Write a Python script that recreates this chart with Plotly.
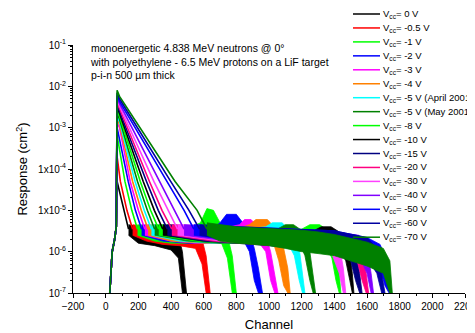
import plotly.graph_objects as go

# ---------------- data ----------------
series_names = [
    "V<sub>cc</sub>= 0 V", "V<sub>cc</sub>= -0.5 V", "V<sub>cc</sub>= -1 V",
    "V<sub>cc</sub>= -2 V", "V<sub>cc</sub>= -3 V", "V<sub>cc</sub>= -4 V",
    "V<sub>cc</sub>= -5 V (April 2001)", "V<sub>cc</sub>= -5 V (May 2001)",
    "V<sub>cc</sub>= -8 V", "V<sub>cc</sub>= -10 V", "V<sub>cc</sub>= -15 V",
    "V<sub>cc</sub>= -20 V", "V<sub>cc</sub>= -30 V", "V<sub>cc</sub>= -40 V",
    "V<sub>cc</sub>= -50 V", "V<sub>cc</sub>= -60 V", "V<sub>cc</sub>= -70 V",
]
series_colors = [
    "#000000", "#ff0000", "#00ff00", "#0000ff", "#ff00ff", "#ff8000",
    "#00ffff", "#008000", "#00ff00", "#000000", "#000080", "#ff0080",
    "#ff40ff", "#8000ff", "#0000ff", "#0000a0", "#008000",
]

# common leading edge of every spectrum
rise_ch = [25, 40, 55, 65]
rise_resp = [1e-7, 1e-6, 2e-6, 4e-6]

# peak and exponential fall-off of each spectrum
decay_ch = [
    [70, 110, 140],
    [70, 90, 130, 165],
    [70, 118, 160, 195],
    [70, 138, 182, 220],
    [70, 85, 150, 200, 240],
    [70, 85, 165, 218, 260],
    [70, 85, 180, 236, 280],
    [70, 85, 195, 255, 300],
    [70, 85, 212, 275, 325],
    [70, 85, 230, 298, 350],
    [70, 85, 250, 322, 378],
    [70, 85, 268, 345, 405],
    [70, 85, 295, 380, 440],
    [70, 85, 330, 420, 480],
    [70, 85, 375, 480, 540],
    [70, 85, 398, 510, 575],
    [70, 85, 425, 560, 620],
]
decay_resp = [
    [5e-5, 1e-5, 3.5e-6],
    [2e-4, 5e-5, 1e-5, 3.5e-6],
    [6.5e-4, 5e-5, 1e-5, 3.5e-6],
    [1.0e-3, 5e-5, 1e-5, 3.5e-6],
    [1.3e-3, 1.0e-3, 5e-5, 1e-5, 3.5e-6],
    [1.6e-3, 1.2e-3, 5e-5, 1e-5, 3.5e-6],
    [1.9e-3, 1.4e-3, 5e-5, 1e-5, 3.5e-6],
    [2.2e-3, 1.6e-3, 5e-5, 1e-5, 3.5e-6],
    [2.6e-3, 1.9e-3, 5e-5, 1e-5, 3.5e-6],
    [3.0e-3, 2.2e-3, 5e-5, 1e-5, 3.5e-6],
    [3.5e-3, 2.5e-3, 5e-5, 1e-5, 3.5e-6],
    [4.0e-3, 2.9e-3, 5e-5, 1e-5, 3.5e-6],
    [4.6e-3, 3.3e-3, 5e-5, 1e-5, 3.5e-6],
    [5.3e-3, 3.8e-3, 5e-5, 1e-5, 3.5e-6],
    [6.0e-3, 4.3e-3, 5e-5, 1e-5, 3.5e-6],
    [7.0e-3, 5.0e-3, 5e-5, 1e-5, 3.5e-6],
    [8.0e-3, 5.7e-3, 5e-5, 1e-5, 3.5e-6],
]

# noisy floor of each spectrum (upper / lower edge of the noise), incl. end-point drop
floor_ch = [
    [140, 200, 300, 400, 445, 470, 495],
    [165, 250, 350, 450, 550, 590, 615, 640],
    [195, 300, 400, 500, 580, 620, 660, 700, 745, 775, 800],
    [220, 350, 500, 650, 700, 740, 800, 840, 880, 910, 935, 960],
    [240, 400, 550, 700, 820, 850, 890, 930, 980, 1010, 1035, 1055],
    [260, 400, 600, 800, 880, 920, 990, 1030, 1060, 1090, 1115, 1130],
    [280, 450, 650, 850, 980, 1020, 1080, 1120, 1155, 1185, 1205, 1220],
    [300, 500, 700, 900, 1050, 1100, 1150, 1190, 1220, 1250, 1270, 1285],
    [325, 550, 800, 1000, 1200, 1250, 1310, 1350, 1385, 1410, 1430, 1440],
    [350, 600, 850, 1100, 1280, 1320, 1380, 1430, 1470, 1495, 1510, 1520],
    [378, 600, 900, 1200, 1400, 1500, 1530, 1555, 1570],
    [405, 650, 950, 1250, 1450, 1540, 1570, 1595, 1610],
    [440, 700, 1000, 1250, 1380, 1430, 1455, 1470],
    [480, 750, 1050, 1350, 1550, 1600, 1625, 1640],
    [540, 800, 1100, 1400, 1600, 1680, 1710, 1735, 1745],
    [575, 800, 1100, 1400, 1600, 1660, 1690, 1710],
    [620, 700, 800, 900, 1000, 1100, 1200, 1300, 1400, 1500, 1600, 1700, 1740, 1755],
]
floor_hi = [
    [4.5e-6, 4e-6, 3.5e-6, 3e-6, 2.5e-6, 1e-6, 1e-7],
    [4.5e-6, 4e-6, 3.5e-6, 3.3e-6, 3e-6, 2e-6, 8e-7, 1e-7],
    [4.5e-6, 4e-6, 3.5e-6, 3.5e-6, 5e-6, 1.1e-5, 1e-5, 5e-6, 2.5e-6, 8e-7, 1e-7],
    [4.5e-6, 4e-6, 3.5e-6, 3.5e-6, 5e-6, 8e-6, 8e-6, 5e-6, 3e-6, 1.2e-6, 4e-7, 1e-7],
    [4.5e-6, 4e-6, 3.5e-6, 3.5e-6, 4.5e-6, 6e-6, 6e-6, 4e-6, 2.5e-6, 1e-6, 3e-7, 1e-7],
    [4.5e-6, 4e-6, 3.5e-6, 3.5e-6, 4.5e-6, 6e-6, 6e-6, 4e-6, 2.5e-6, 1.2e-6, 4e-7, 1e-7],
    [4.5e-6, 4e-6, 3.5e-6, 3.5e-6, 4e-6, 5e-6, 5e-6, 3.5e-6, 2.5e-6, 1.2e-6, 3e-7, 1e-7],
    [4.5e-6, 4e-6, 3.5e-6, 3.5e-6, 3.5e-6, 4.5e-6, 4.5e-6, 3.5e-6, 2.5e-6, 1e-6, 3e-7, 1e-7],
    [4.5e-6, 4e-6, 3.5e-6, 3.5e-6, 3.5e-6, 4.5e-6, 4.5e-6, 3.5e-6, 2.2e-6, 9e-7, 3e-7, 1e-7],
    [4.5e-6, 4e-6, 3.5e-6, 3.5e-6, 3.3e-6, 4e-6, 4e-6, 3e-6, 2e-6, 9e-7, 3e-7, 1e-7],
    [4.5e-6, 4e-6, 3.6e-6, 3.2e-6, 2.8e-6, 2e-6, 1e-6, 3e-7, 1e-7],
    [4.5e-6, 4e-6, 3.6e-6, 3.2e-6, 2.8e-6, 2e-6, 1e-6, 3e-7, 1e-7],
    [4.5e-6, 4e-6, 3.6e-6, 3.2e-6, 2.8e-6, 1.5e-6, 4e-7, 1e-7],
    [4.5e-6, 4e-6, 3.6e-6, 3.2e-6, 2.5e-6, 1.2e-6, 3e-7, 1e-7],
    [4.5e-6, 4e-6, 3.6e-6, 3.2e-6, 2.2e-6, 1.5e-6, 8e-7, 2e-7, 1e-7],
    [4.5e-6, 4e-6, 3.6e-6, 3.2e-6, 2.2e-6, 1.2e-6, 3e-7, 1e-7],
    [5e-6, 4.5e-6, 4e-6, 3.8e-6, 3.6e-6, 3.5e-6, 3.3e-6, 3e-6, 2.6e-6, 2.1e-6, 1.7e-6, 1.2e-6, 6e-7, 1e-7],
]
floor_lo = [
    [2.5e-6, 1.6e-6, 1.4e-6, 1.1e-6, 7e-7, 1e-7, 1e-7],
    [2.5e-6, 1.8e-6, 1.5e-6, 1.4e-6, 1.2e-6, 5e-7, 1e-7, 1e-7],
    [2.5e-6, 1.8e-6, 1.6e-6, 1.6e-6, 2e-6, 4.5e-6, 4e-6, 2e-6, 7e-7, 1e-7, 1e-7],
    [2.5e-6, 1.8e-6, 1.6e-6, 1.6e-6, 2.5e-6, 3.5e-6, 3.5e-6, 2e-6, 1e-6, 2e-7, 1e-7, 1e-7],
    [2.5e-6, 1.8e-6, 1.6e-6, 1.6e-6, 2e-6, 3e-6, 3e-6, 1.8e-6, 1e-6, 2e-7, 1e-7, 1e-7],
    [2.5e-6, 1.8e-6, 1.6e-6, 1.6e-6, 2e-6, 3e-6, 3e-6, 1.5e-6, 6e-7, 1.5e-7, 1e-7, 1e-7],
    [2.5e-6, 1.8e-6, 1.6e-6, 1.6e-6, 2e-6, 2.5e-6, 2.5e-6, 1.5e-6, 8e-7, 2e-7, 1e-7, 1e-7],
    [2.5e-6, 1.8e-6, 1.6e-6, 1.6e-6, 1.6e-6, 2.2e-6, 2.2e-6, 1.5e-6, 8e-7, 2e-7, 1e-7, 1e-7],
    [2.5e-6, 1.8e-6, 1.6e-6, 1.6e-6, 1.5e-6, 2e-6, 2e-6, 1.4e-6, 7e-7, 2e-7, 1e-7, 1e-7],
    [2.5e-6, 1.8e-6, 1.6e-6, 1.5e-6, 1.4e-6, 1.8e-6, 1.8e-6, 1.2e-6, 6e-7, 2e-7, 1e-7, 1e-7],
    [2.5e-6, 1.8e-6, 1.5e-6, 1.2e-6, 1e-6, 6e-7, 2e-7, 1e-7, 1e-7],
    [2.5e-6, 1.8e-6, 1.5e-6, 1.2e-6, 1e-6, 6e-7, 2e-7, 1e-7, 1e-7],
    [2.5e-6, 1.8e-6, 1.5e-6, 1.2e-6, 1e-6, 3e-7, 1e-7, 1e-7],
    [2.5e-6, 1.8e-6, 1.5e-6, 1.2e-6, 8e-7, 3e-7, 1e-7, 1e-7],
    [2.5e-6, 1.8e-6, 1.5e-6, 1.2e-6, 7e-7, 4e-7, 1.5e-7, 1e-7, 1e-7],
    [2.5e-6, 1.8e-6, 1.5e-6, 1.2e-6, 7e-7, 3e-7, 1e-7, 1e-7],
    [2.5e-6, 1.8e-6, 1.6e-6, 1.5e-6, 1.4e-6, 1.2e-6, 1e-6, 9e-7, 8e-7, 6e-7, 4.5e-7, 3e-7, 1e-7, 1e-7],
]

y_tick_vals = [1e-1, 1e-2, 1e-3, 1e-4, 1e-5, 1e-6, 1e-7]
y_tick_text = ["10<sup>-1</sup>", "10<sup>-2</sup>", "10<sup>-3</sup>", "1x10<sup>-4</sup>",
               "1x10<sup>-5</sup>", "10<sup>-6</sup>", "10<sup>-7</sup>"]

info_text = ("monoenergetic 4.838 MeV neutrons @ 0°<br>"
             "with polyethylene - 6.5 MeV protons on a LiF target<br>"
             "p-i-n 500 µm thick")

# ---------------- figure ----------------
FONT = "Arial, Liberation Sans, Helvetica, sans-serif"
OFF = 8                      # default page (body) margin of the html page
W, H = 475 - OFF, 333 - OFF
ML, MR, MT, MB = 73 - OFF, 10, 45 - OFF, 40
PW, PH = W - ML - MR, H - MT - MB


def px_to_paper_x(px):
    return (px - OFF - ML) / PW


def px_to_paper_y(py):
    return (H - MB - (py - OFF)) / PH


fig = go.Figure()
for i, name in enumerate(series_names):
    col = series_colors[i]
    # noisy floor band
    fx = floor_ch[i] + floor_ch[i][::-1]
    fy = floor_hi[i] + floor_lo[i][::-1]
    fig.add_trace(go.Scatter(x=fx, y=fy, mode="lines", fill="toself",
                             fillcolor=col, line=dict(color=col, width=0.8),
                             hoverinfo="skip", showlegend=False))
    # rise + peak + decay
    fig.add_trace(go.Scatter(x=rise_ch + decay_ch[i], y=rise_resp + decay_resp[i],
                             mode="lines", name=name,
                             line=dict(color=col, width=1.6), showlegend=False))

minor_vals = [m * 10.0 ** e for e in range(-7, -1) for m in range(2, 10)]

fig.update_layout(
    width=W, height=H,
    margin=dict(l=ML, r=MR, t=MT, b=MB, autoexpand=False),
    paper_bgcolor="white", plot_bgcolor="white",
    font=dict(family=FONT, size=10, color="black"),
    showlegend=False,
    xaxis=dict(range=[-200, 2200], tick0=-200, dtick=200, ticks="outside", ticklen=4,
               tickwidth=1, tickcolor="black", showline=True, linecolor="black",
               linewidth=1, showgrid=False, zeroline=False, automargin=False,
               ticklabeloverflow="allow",
               tickfont=dict(size=10, family=FONT),
               minor=dict(dtick=100, ticks="outside", ticklen=2, tickcolor="black", showgrid=False),
               title=dict(text="Channel", font=dict(size=13, family=FONT), standoff=8)),
    yaxis=dict(type="log", range=[-7, -1], tickvals=y_tick_vals, ticktext=y_tick_text,
               ticks="outside", ticklen=4, tickwidth=1, tickcolor="black",
               showline=True, linecolor="black", linewidth=1, showgrid=False,
               zeroline=False, automargin=False, tickfont=dict(size=10, family=FONT),
               minor=dict(tickvals=minor_vals, ticks="outside", ticklen=2,
                          tickcolor="black", showgrid=False),
               title=dict(text="Response (cm<sup>2</sup>)", font=dict(size=13, family=FONT),
                          standoff=7)),
)

fig.add_annotation(x=px_to_paper_x(88), y=px_to_paper_y(40), xref="paper", yref="paper",
                   xanchor="left", yanchor="top", align="left", showarrow=False,
                   text=info_text, font=dict(size=10.5, family=FONT))

# hand-made legend (compact row spacing like the original)
for i, name in enumerate(series_names):
    yp = px_to_paper_y(14 + 13.95 * i)
    fig.add_shape(type="line", xref="paper", yref="paper",
                  x0=px_to_paper_x(353), x1=px_to_paper_x(380), y0=yp, y1=yp,
                  line=dict(color=series_colors[i], width=1.5))
    fig.add_annotation(x=px_to_paper_x(381), y=yp, xref="paper", yref="paper",
                       xanchor="left", yanchor="middle", showarrow=False,
                       text=name, font=dict(size=9.5, family=FONT))

fig.write_html("out.html")
